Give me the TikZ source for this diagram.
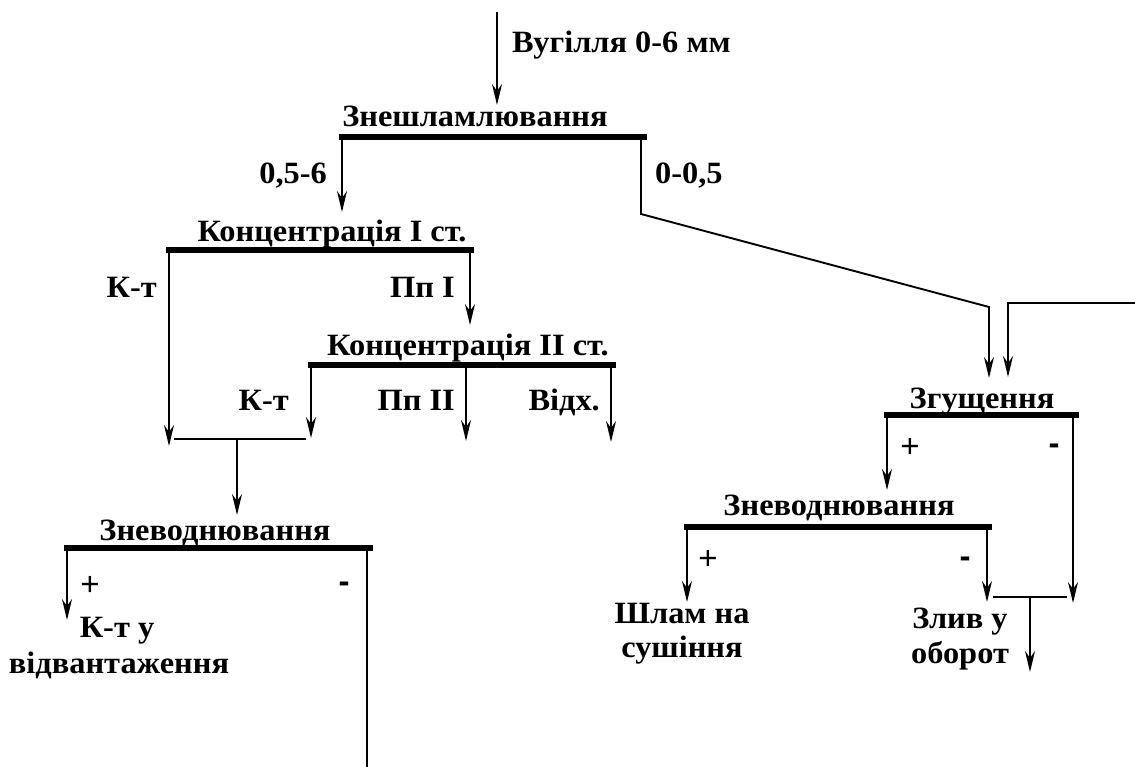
\documentclass[tikz,border=0pt]{standalone}
\usepackage{fontspec}
\setmainfont{Liberation Serif}[FakeStretch=1.045]
\newfontfamily\signfont{Liberation Sans}
\usetikzlibrary{arrows.meta}
\begin{document}
\begin{tikzpicture}[x=1pt,y=-1pt,
  lbl/.style={font=\fontsize{31}{35}\selectfont\bfseries, inner sep=0pt},
  sgn/.style={font=\signfont\fontsize{33}{36}\selectfont, inner sep=0pt, anchor=center},
  msgn/.style={font=\signfont\fontsize{33}{36}\selectfont\bfseries, inner sep=0pt, anchor=center},
  bar/.style={line width=5.5pt, line cap=rect},
  flow/.style={line width=1.9pt},
  arr/.style={flow, -{Stealth[length=21pt,width=10pt,inset=7pt]}}]
\useasboundingbox (0,0) rectangle (1135,767);

% ---- labels ----
\node[lbl, anchor=base west] (feedL) at (512,53) {Вугілля 0-6 мм};
\node[lbl, anchor=base] (desl) at (475,127) {Знешламлювання};
\node[lbl, anchor=base east] (fr1) at (327,184) {0,5-6};
\node[lbl, anchor=base west] (fr2) at (655,184) {0-0,5};
\node[lbl, anchor=base] (conc1) at (332,242) {Концентрація І ст.};
\node[lbl, anchor=base east] (kt1) at (157,298) {К-т};
\node[lbl, anchor=base east] (pp1) at (455,298) {Пп І};
\node[lbl, anchor=base] (conc2) at (468,355) {Концентрація ІІ ст.};
\node[lbl, anchor=base east] (kt2) at (289,410) {К-т};
\node[lbl, anchor=base east] (pp2) at (455,410) {Пп ІІ};
\node[lbl, anchor=base east] (tail) at (600,410) {Відх.};
\node[lbl, anchor=base] (dewL) at (215,540) {Зневоднювання};
\node[sgn] (pL) at (90,586) {+};
\node[msgn] (mL) at (344,587) {-};
\node[lbl, anchor=base] (prod1) at (117,637) {К-т у};
\node[lbl, anchor=base] (prod2) at (119,673) {відвантаження};
\node[lbl, anchor=base] (thick) at (982,408) {Згущення};
\node[sgn] (pT) at (910,448) {+};
\node[msgn] (mT) at (1054,449) {-};
\node[lbl, anchor=base] (dewR) at (839,515) {Зневоднювання};
\node[sgn] (pR) at (708,560) {+};
\node[msgn] (mR) at (965,562) {-};
\node[lbl, anchor=base] (slam1) at (682,623) {Шлам на};
\node[lbl, anchor=base] (slam2) at (682,657) {сушіння};
\node[lbl, anchor=base] (drain1) at (960,628) {Злив у};
\node[lbl, anchor=base] (drain2) at (960,663) {оборот};

% ---- coordinates ----
\coordinate (feedS) at (497,12);   \coordinate (feedT) at (497,105);
\coordinate (b1L) at (342,137);    \coordinate (b1R) at (644,137);
\coordinate (b1d) at (342,212);
\coordinate (b1r) at (641,137);    \coordinate (b1k) at (641,214);
\coordinate (jA) at (989,307);     \coordinate (jAt) at (989,378);
\coordinate (ret) at (1135,303);   \coordinate (retK) at (1008,303);
\coordinate (retT) at (1008,377);
\coordinate (c1L) at (169,250);    \coordinate (c1R) at (471,250);
\coordinate (c1lt) at (169,446);
\coordinate (c1r) at (470,250);    \coordinate (c1rt) at (470,325);
\coordinate (c2L) at (311,365);    \coordinate (c2R) at (613,365);
\coordinate (c2at) at (311,438);
\coordinate (c2m) at (466,365);    \coordinate (c2mt) at (466,441);
\coordinate (c2r) at (611,365);    \coordinate (c2rt) at (611,442);
\coordinate (jLa) at (174,439);    \coordinate (jLb) at (306,439);
\coordinate (jLm) at (237,439);    \coordinate (jLt) at (237,515);
\coordinate (dLL) at (67,548);     \coordinate (dLR) at (370,548);
\coordinate (dLlt) at (67,620);
\coordinate (dLr) at (367,548);    \coordinate (dLrb) at (367,767);
\coordinate (gL) at (887,415);     \coordinate (gR) at (1076,415);
\coordinate (glt) at (887,490);
\coordinate (gr) at (1073,415);    \coordinate (grt) at (1073,603);
\coordinate (dRL) at (687,527);    \coordinate (dRR) at (989,527);
\coordinate (dRlt) at (687,602);
\coordinate (dRr) at (987,527);    \coordinate (dRrt) at (987,602);
\coordinate (jRa) at (993,597);    \coordinate (jRb) at (1067,597);
\coordinate (jRm) at (1030,597);   \coordinate (jRt) at (1030,672);

% ---- bars ----
\draw[bar] (b1L) -- (b1R);
\draw[bar] (c1L) -- (c1R);
\draw[bar] (c2L) -- (c2R);
\draw[bar] (dLL) -- (dLR);
\draw[bar] (gL) -- (gR);
\draw[bar] (dRL) -- (dRR);

% ---- flows ----
\draw[arr] (feedS) -- (feedT);
\draw[arr] (b1L) -- (b1d);
\draw[arr] (b1r) -- (b1k) -- (jA) -- (jAt);
\draw[arr] (ret) -- (retK) -- (retT);
\draw[arr] (c1L) -- (c1lt);
\draw[arr] (c1r) -- (c1rt);
\draw[arr] (c2L) -- (c2at);
\draw[arr] (c2m) -- (c2mt);
\draw[arr] (c2r) -- (c2rt);
\draw[flow] (jLa) -- (jLb);
\draw[arr] (jLm) -- (jLt);
\draw[arr] (dLL) -- (dLlt);
\draw[flow] (dLr) -- (dLrb);
\draw[arr] (gL) -- (glt);
\draw[arr] (gr) -- (grt);
\draw[arr] (dRL) -- (dRlt);
\draw[arr] (dRr) -- (dRrt);
\draw[flow] (jRa) -- (jRb);
\draw[arr] (jRm) -- (jRt);
\end{tikzpicture}
\end{document}
